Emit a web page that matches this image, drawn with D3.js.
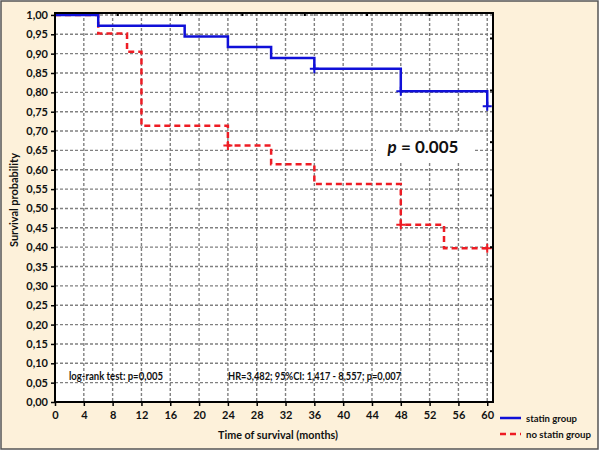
<!DOCTYPE html>
<html lang="en">
  <head>
    <meta charset="UTF-8" />
    <title>Survival curves</title>
    <script src="https://cdn.jsdelivr.net/npm/d3@7/dist/d3.min.js"></script>
    <style>
      body { margin: 0; background: #fff; }
      text { font-family: Lato, 'Open Sans', sans-serif; font-weight: bold; fill: #111; }
    </style>
  </head>
  <body>
    <div id='app'></div>

    <script>
  // step data
  const statinTimes = [0, 6, 18, 24, 30, 36, 48, 60]
  const statinSurv = [1.0, 0.972, 0.944, 0.917, 0.889, 0.861, 0.803, 0.764]
  const statinCensor = [36, 48, 60]

  const noStatinTimes = [0, 6, 10, 12, 24, 30, 36, 48, 54, 60]
  const noStatinSurv = [1.0, 0.952, 0.905, 0.714, 0.663, 0.614, 0.563, 0.458, 0.397, 0.397]
  const noStatinCensor = [24, 48, 60]

  const xTicks = d3.range(0, 61, 4)
  const yTicks = d3.range(0, 1.001, 0.05)
  // small extra ticks on the top and right frame
  const topTicks = [8.65, 17.3, 25.95, 34.6, 43.25, 51.9]
  const rightTicks = [0.1326, 0.267, 0.401, 0.535, 0.6726, 0.806, 0.9406]

  const legendLabels = ['statin group', 'no statin group']

  const width = 600, height = 451
  const margin = { top: 13, left: 55, right: 107, bottom: 49 }

  const svg = d3.select('#app').append('svg')
    .attr('width', width)
    .attr('height', height)

  // squeeze a text to a given width (the original font is narrower)
  function fit(sel, w) {
    sel.each(function () {
      if (this.getComputedTextLength() > w) {
        d3.select(this).attr('textLength', w).attr('lengthAdjust', 'spacingAndGlyphs')
      }
    })
    return sel
  }

  // cream frame
  svg.append('rect')
    .attr('x', 1).attr('y', 1)
    .attr('width', width - 3).attr('height', height - 3)
    .attr('fill', '#fdf1da')
    .attr('stroke', '#555')
    .attr('stroke-width', 1.5)

  const x = d3.scaleLinear().domain([0, 60.8]).range([margin.left, width - margin.right])
  const y = d3.scaleLinear().domain([0, 1.005]).range([height - margin.bottom, margin.top])

  const x0 = x.range()[0], x1 = x.range()[1]
  const y0 = y.range()[0], y1 = y.range()[1]

  // plot area
  svg.append('rect')
    .attr('x', x0).attr('y', y1)
    .attr('width', x1 - x0).attr('height', y0 - y1)
    .attr('fill', '#fff')

  // grid
  const grid = svg.append('g')
    .attr('stroke', '#808080')
    .attr('stroke-width', 1.4)
    .attr('stroke-dasharray', '3,2')
  grid.selectAll('line.v')
    .data(xTicks.filter(d => d > 0))
    .join('line')
    .attr('class', 'v')
    .attr('x1', d => x(d)).attr('x2', d => x(d))
    .attr('y1', y1).attr('y2', y0)
  grid.selectAll('line.h')
    .data(yTicks.filter(d => d > 0.001))
    .join('line')
    .attr('class', 'h')
    .attr('x1', x0).attr('x2', x1)
    .attr('y1', d => y(d)).attr('y2', d => y(d))

  // p-value box
  svg.append('rect')
    .attr('x', 376).attr('y', 132)
    .attr('width', 97).attr('height', 29)
    .attr('fill', '#fff')
  const pText = svg.append('text')
    .attr('x', 423).attr('y', 153)
    .attr('text-anchor', 'middle')
    .style('font-size', '17px')
  pText.append('tspan').style('font-style', 'italic').text('p')
  pText.append('tspan').text(' = 0.005')

  // curves
  const line = d3.line()
    .x(d => x(d[0]))
    .y(d => y(d[1]))
    .curve(d3.curveStepAfter)

  const series = [
    { times: statinTimes, surv: statinSurv, censor: statinCensor, color: '#1010d8', dash: null },
    { times: noStatinTimes, surv: noStatinSurv, censor: noStatinCensor, color: '#ee1c24', dash: '6,4' }
  ]

  function survAt(s, t) {
    let v = s.surv[0]
    s.times.forEach((tt, i) => { if (tt <= t) v = s.surv[i] })
    return v
  }

  // draw red first so blue sits on top at the start
  series.slice().reverse().forEach(s => {
    svg.append('path')
      .datum(s.times.map((t, i) => [t, s.surv[i]]))
      .attr('fill', 'none')
      .attr('stroke', s.color)
      .attr('stroke-width', 2.5)
      .attr('stroke-dasharray', s.dash)
      .attr('d', line)

    svg.append('g').selectAll('path')
      .data(s.censor)
      .join('path')
      .attr('stroke', s.color)
      .attr('stroke-width', 2)
      .attr('d', d => {
        const cx = x(d), cy = y(survAt(s, d))
        return `M${cx - 4.5},${cy}H${cx + 4.5}M${cx},${cy - 4.5}V${cy + 4.5}`
      })
  })

  // frame axes
  svg.append('rect')
    .attr('x', x0).attr('y', y1)
    .attr('width', x1 - x0).attr('height', y0 - y1)
    .attr('fill', 'none')
    .attr('stroke', '#000')
    .attr('stroke-width', 2)

  const xAxis = svg.append('g')
    .attr('transform', `translate(0,${y0})`)
    .call(d3.axisBottom(x).tickValues(xTicks).tickSize(4).tickPadding(5))
  const yAxis = svg.append('g')
    .attr('transform', `translate(${x0},0)`)
    .call(d3.axisLeft(y).tickValues(yTicks).tickSize(4).tickPadding(3)
      .tickFormat(d => d3.format('.2f')(d).replace('.', ',')))
  ;[xAxis, yAxis].forEach(a => {
    a.select('.domain').remove()
    a.selectAll('.tick line').attr('stroke', '#000').attr('stroke-width', 1.5)
    a.selectAll('.tick text').style('font-size', '11px').attr('fill', '#111')
  })

  svg.append('g')
    .attr('transform', `translate(0,${y1})`)
    .call(d3.axisBottom(x).tickValues(topTicks).tickSize(3).tickFormat(''))
    .call(g => g.select('.domain').remove())
    .selectAll('.tick line').attr('stroke', '#000').attr('stroke-width', 2)
  svg.append('g')
    .attr('transform', `translate(${x1},0)`)
    .call(d3.axisLeft(y).tickValues(rightTicks).tickSize(3).tickFormat(''))
    .call(g => g.select('.domain').remove())
    .selectAll('.tick line').attr('stroke', '#000').attr('stroke-width', 2)

  // axis titles
  fit(svg.append('text')
    .attr('x', 278).attr('y', 439)
    .attr('text-anchor', 'middle')
    .style('font-size', '11.5px')
    .text('Time of survival (months)'), 120)
  fit(svg.append('text')
    .attr('transform', `translate(18,200) rotate(-90)`)
    .attr('text-anchor', 'middle')
    .style('font-size', '11px')
    .text('Survival probability'), 94)

  // annotations
  fit(svg.append('text')
    .attr('x', 69).attr('y', 380)
    .style('font-size', '11px')
    .text('log-rank test: p=0,005'), 94)
  fit(svg.append('text')
    .attr('x', 228).attr('y', 380)
    .style('font-size', '11px')
    .text('HR=3,482; 95%CI: 1,417 - 8,557; p=0,007'), 173)

  // legend
  const legendWidths = [51, 65]
  const legend = svg.append('g').selectAll('g')
    .data(legendLabels)
    .join('g')
    .attr('transform', (d, i) => `translate(500,${418 + i * 16})`)
  legend.append('line')
    .attr('x1', 0).attr('x2', 21)
    .attr('stroke', (d, i) => series[i].color)
    .attr('stroke-width', 2.5)
    .attr('stroke-dasharray', (d, i) => series[i].dash)
  legend.append('text')
    .attr('x', 26).attr('y', 4)
    .style('font-size', '10px')
    .text(d => d)
    .each(function (d, i) { fit(d3.select(this), legendWidths[i]) })
    </script>
  </body>
</html>
